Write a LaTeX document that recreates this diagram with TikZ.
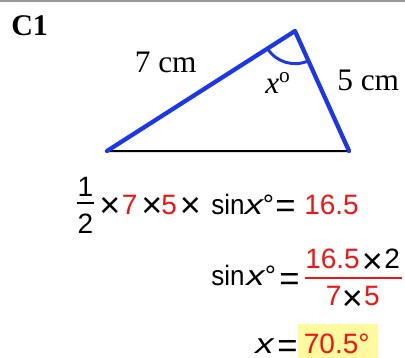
\documentclass[tikz,border=0pt]{standalone}
\usepackage{fontspec}
\setmainfont{Liberation Serif}
\newfontfamily\eqfont{Liberation Sans}
\definecolor{triblue}{RGB}{30,55,230}
\definecolor{ansred}{RGB}{240,20,20}
\definecolor{hilite}{RGB}{255,250,160}
\newcommand\xvar{\scalebox{1.3}[1]{\itshape x}}
\newcommand\sinword{\scalebox{0.93}[1]{sin}}
\newcommand\timessign{\makebox[10pt]{×}}
\newcommand\equalsign{\makebox[11pt]{=}}
\newcommand\nodepth[1]{\raisebox{0pt}[\height][0pt]{#1}}
\begin{document}
\begin{tikzpicture}[x=0.75pt,y=-0.75pt,
  lbl/.style={font=\fontsize{23.5}{23.5}\selectfont, inner sep=0pt, anchor=base west},
  eq/.style={font=\eqfont\fontsize{21}{21}\selectfont, inner sep=0pt, anchor=base west},
  timesop/.style={font=\eqfont\fontsize{27}{27}\selectfont, inner sep=0pt, anchor=north},
  eqop/.style={font=\eqfont\fontsize{26}{26}\selectfont, inner sep=0pt, anchor=north},
  redt/.style={text=ansred},
  fracbar/.style={line width=1.1pt}]
\useasboundingbox (0,0) rectangle (405,358);
\fill[black!40] (0,0) rectangle (405,2);
% triangle
\coordinate (A) at (107,151);
\coordinate (B) at (295,31);
\coordinate (C) at (350,151);
\coordinate (C2) at (349,151);
\draw[line width=1.5pt, line join=round] (A) -- (C) -- (B);
\draw[triblue, line width=3.2pt, line cap=round, line join=round] (A) -- (B) -- (C2);
\draw[triblue, line width=2.2pt] (B) ++(212.55:24.5pt) arc[start angle=212.55, end angle=294.6, radius=24.5pt];
% labels
\node[font=\bfseries\fontsize{22.5}{22.5}\selectfont, inner sep=0pt, anchor=base west] (c1) at (11,35) {C1};
\node[lbl] (s7) at (134.5,72) {7 cm};
\node[lbl] (s5) at (337,90) {5 cm};
\node[lbl] (ang) at (265,93) {\textit{x}\raisebox{8pt}{\fontsize{16}{16}\selectfont o}};
% line 1 (baseline 214)
\node[eq, anchor=base] (n1) at (85.5,196) {1};
\draw[fracbar] (77,203) -- (94,203);
\node[eq, anchor=base] (d2) at (85.5,233) {2};
\node[timesop] (m1) at (110,197.5) {\timessign};
\node[eq, redt] (a7) at (121.6,214) {7};
\node[timesop] (m2) at (151.8,197.5) {\timessign};
\node[eq, redt] (a5) at (161.2,214) {5};
\node[timesop] (m3) at (190.5,197.5) {\timessign};
\node[eq] (sin1) at (211,214) {\sinword};
\node[eq] (x1) at (244.5,214) {\xvar};
\node[eq] (dg1) at (262.5,214) {°};
\node[eqop] (eq1) at (285.5,200.5) {\equalsign};
\node[eq, redt] (r1) at (304,214) {16.5};
% line 2 (baseline 285)
\node[eq] (sin2) at (211,285) {\sinword};
\node[eq] (x2) at (246,285) {\xvar};
\node[eq] (dg2) at (264.5,285) {°};
\node[eqop] (eq2) at (289.5,273.5) {\equalsign};
\draw[fracbar, ansred] (305,278) -- (402,278);
\node[eq, redt] (r2) at (305,268) {16.5};
\node[timesop] (m4) at (372.5,253) {\timessign};
\node[eq] (t2) at (384,268) {2};
\node[eq, redt] (b7) at (325.6,305) {7};
\node[timesop] (m5) at (352.5,290) {\timessign};
\node[eq, redt] (b5) at (363.8,305) {5};
% line 3 (baseline 353)
\fill[hilite] (298,324) rectangle (378,358);
\node[eq] (x3) at (255,353) {\nodepth{\xvar}};
\node[eqop] (eq3) at (287.5,340.5) {\equalsign};
\node[eq, redt] (res) at (303.6,353) {\nodepth{70.5°}};
\end{tikzpicture}
\end{document}
